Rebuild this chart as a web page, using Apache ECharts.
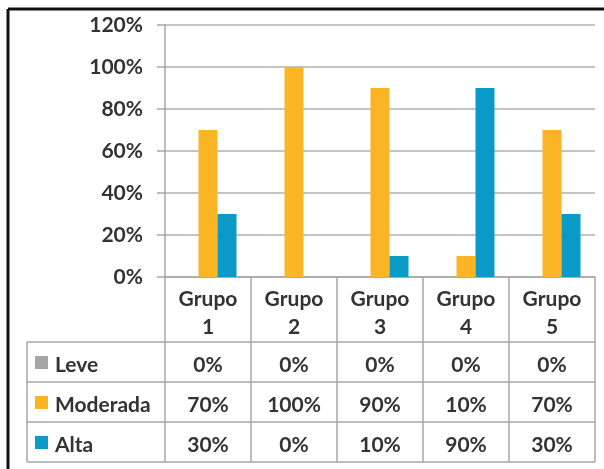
<!DOCTYPE html>
<html>
<head>
<meta charset="utf-8">
<script src="https://cdn.jsdelivr.net/npm/echarts@6/dist/echarts.min.js"></script>
<style>
  html, body { margin: 0; padding: 0; background: #fff; }
  #chart { width: 604px; height: 469px; }
</style>
</head>
<body>
<div id="chart"></div>
<script>
// Severity share per group (percent)
const categories = ['Grupo 1', 'Grupo 2', 'Grupo 3', 'Grupo 4', 'Grupo 5'];
const seriesNames = ['Leve', 'Moderada', 'Alta'];
const leve = [0, 0, 0, 0, 0];
const moderada = [70, 100, 90, 10, 70];
const alta = [30, 0, 10, 90, 30];
const yTicks = [0, 20, 40, 60, 80, 100, 120];

const colors = ['#a5a5a5', '#fbb424', '#0a9ac8'];
const FONT = 'Lato';
const TEXT = '#333333';
const LINE = '#a6a6a6';
const FS = 21;

const chart = echarts.init(document.getElementById('chart'), null, { renderer: 'canvas' });

const option = {
  animation: false,
  backgroundColor: '#ffffff',
  grid: { left: 165, right: 9, top: 25, bottom: 192, containLabel: false },
  xAxis: {
    type: 'category',
    data: categories,
    axisLine: { show: true, lineStyle: { color: LINE, width: 1.5 } },
    axisTick: { show: false },
    axisLabel: {
      interval: 0,
      margin: 8,
      fontFamily: FONT,
      fontSize: FS,
      fontWeight: 'bold',
      color: TEXT,
      lineHeight: 28,
      formatter: v => v.replace(' ', '\n')
    }
  },
  yAxis: {
    type: 'value',
    min: yTicks[0],
    max: yTicks[yTicks.length - 1],
    interval: 20,
    axisLine: { show: true, lineStyle: { color: LINE, width: 1.5 } },
    axisTick: { show: true, length: 8, lineStyle: { color: LINE, width: 1.5 } },
    splitLine: { show: true, lineStyle: { color: '#c4c4c4', width: 2 } },
    axisLabel: {
      margin: 22,
      fontFamily: FONT,
      fontSize: FS,
      fontWeight: 'bold',
      color: TEXT,
      padding: [6, 0, 0, 0],
      formatter: v => v + '%'
    }
  },
  series: [leve, moderada, alta].map((d, i) => ({
    name: seriesNames[i],
    type: 'bar',
    data: d,
    barWidth: 19,
    barGap: '0%',
    itemStyle: { color: colors[i] }
  }))
};

chart.setOption(option);

// Data table under the plot, aligned to the category bands
function buildTable() {
  const c0 = chart.convertToPixel({ xAxisIndex: 0 }, 0);
  const c1 = chart.convertToPixel({ xAxisIndex: 0 }, 1);
  const band = c1 - c0;
  const left = c0 - band / 2;
  const right = left + band * categories.length;
  const yZero = chart.convertToPixel({ yAxisIndex: 0 }, 0);
  const headerH = 65;
  const rowH = 40;
  const tableLeft = 27;
  const rowsTop = yZero + headerH;
  const bottom = rowsTop + rowH * seriesNames.length;
  const els = [];
  const line = (x1, y1, x2, y2, color, w) => els.push({
    type: 'line', silent: true,
    shape: { x1, y1, x2, y2 },
    style: { stroke: color || LINE, lineWidth: w || 1.5 }
  });

  // vertical cell borders
  for (let i = 0; i <= categories.length; i++) {
    const x = left + band * i;
    line(x, yZero, x, bottom);
  }
  line(tableLeft, rowsTop, tableLeft, bottom);
  // horizontal cell borders
  for (let r = 0; r <= seriesNames.length; r++) {
    const y = rowsTop + rowH * r;
    line(tableLeft, y, right, y);
  }

  const data = [leve, moderada, alta];
  seriesNames.forEach((name, r) => {
    const cy = rowsTop + rowH * r + rowH / 2;
    const ty = cy + 3;
    els.push({
      type: 'rect', silent: true,
      shape: { x: tableLeft + 8, y: cy - 6, width: 13, height: 13 },
      style: { fill: colors[r] }
    });
    els.push({
      type: 'text', silent: true,
      x: tableLeft + 28, y: ty,
      style: { text: name, fontFamily: FONT, fontSize: FS, fontWeight: 'bold', fill: TEXT, align: 'left', verticalAlign: 'middle' }
    });
    data[r].forEach((v, i) => {
      els.push({
        type: 'text', silent: true,
        x: left + band * i + band / 2, y: ty,
        style: { text: v + '%', fontFamily: FONT, fontSize: FS, fontWeight: 'bold', fill: TEXT, align: 'center', verticalAlign: 'middle' }
      });
    });
  });

  // outer frame (left and top edges)
  line(8, 9, 8, 469, '#111111', 3);
  line(8, 9, 604, 9, '#111111', 3);

  chart.setOption({ graphic: { elements: els } });
}
buildTable();
</script>
</body>
</html>
